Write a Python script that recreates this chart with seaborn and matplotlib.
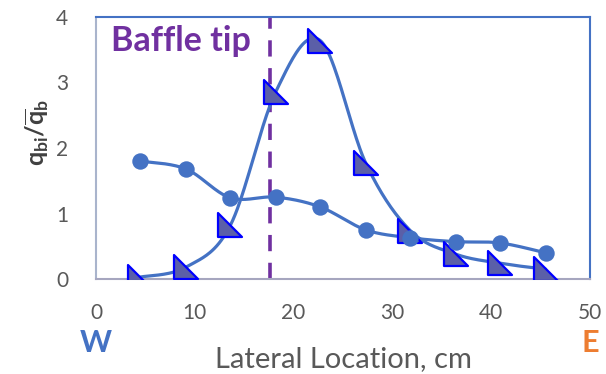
import numpy as np
import pandas as pd
import seaborn as sns
import matplotlib.pyplot as plt
from matplotlib.path import Path

# Data
x_loc = [4.5, 9.1, 13.6, 18.2, 22.7, 27.3, 31.8, 36.4, 40.9, 45.5]
q_circle = [1.80, 1.68, 1.24, 1.25, 1.10, 0.75, 0.63, 0.57, 0.55, 0.40]
q_triangle = [0.03, 0.18, 0.82, 2.86, 3.64, 1.77, 0.74, 0.38, 0.24, 0.15]
baffle_x = 17.6
x_ticks = [0, 10, 20, 30, 40, 50]
y_ticks = [0, 1, 2, 3, 4]

line_blue = '#4472C4'
purple = '#7030A0'


def smooth(xs, ys, sx=494 / 50, sy=262 / 4, n=40):
    # Excel-like smoothed line (Catmull-Rom as cubic Bezier), done in pixel space
    p = np.column_stack([np.array(xs) * sx, np.array(ys) * sy])
    pts = np.vstack([p[0], p, p[-1]])
    out = []
    t = np.linspace(0, 1, n)[:, None]
    for i in range(1, len(pts) - 2):
        p0, p1, p2, p3 = pts[i - 1], pts[i], pts[i + 1], pts[i + 2]
        c1 = p1 + (p2 - p0) / 6
        c2 = p2 - (p3 - p1) / 6
        seg = ((1 - t) ** 3) * p1 + 3 * ((1 - t) ** 2) * t * c1 + 3 * (1 - t) * t ** 2 * c2 + t ** 3 * p2
        out.append(seg if i == 1 else seg[1:])
    out = np.vstack(out)
    return out[:, 0] / sx, out[:, 1] / sy


sns.set_theme(style='white')
plt.rcParams['font.family'] = ['Lato', 'DejaVu Sans']
plt.rcParams['mathtext.fontset'] = 'custom'
plt.rcParams['mathtext.rm'] = 'Lato'
plt.rcParams['mathtext.bf'] = 'Lato:bold'
plt.rcParams['mathtext.it'] = 'Lato:italic'

fig = plt.figure(figsize=(6.06, 3.74), dpi=100)
ax = fig.add_axes([96 / 606, 95 / 374, 494 / 606, 262 / 374])

sx, sy = smooth(x_loc, q_triangle)
cx, cy = smooth(x_loc, q_circle)
sns.lineplot(x=sx, y=sy, ax=ax, color=line_blue, lw=2.3, sort=False, zorder=3)
sns.lineplot(x=cx, y=cy, ax=ax, color=line_blue, lw=2.3, sort=False, zorder=3)

ax.plot([baffle_x, baffle_x], [0, 4], color=purple, lw=2.6, dashes=(4.5, 3.2), zorder=2)

tri = Path([(-1, 1), (-1, -1), (1, -1), (-1, 1)],
           [Path.MOVETO, Path.LINETO, Path.LINETO, Path.CLOSEPOLY])
df = pd.DataFrame({'x': x_loc, 'circ': q_circle, 'tri': q_triangle})
sns.scatterplot(data=df, x='x', y='tri', ax=ax, marker=tri, s=320,
                color='#5B5FA8', edgecolor='#0000FF', linewidth=1.6, zorder=4)
sns.scatterplot(data=df, x='x', y='circ', ax=ax, marker='o', s=140,
                color=line_blue, edgecolor=line_blue, linewidth=0, zorder=5)

ax.set_xlim(0, 50)
ax.set_ylim(0, 4)
ax.set_xticks(x_ticks)
ax.set_yticks(y_ticks)
ax.tick_params(axis='both', labelsize=15, labelcolor='#595959', length=0)
ax.tick_params(axis='x', pad=17)
ax.tick_params(axis='y', pad=20)

ax.set_xlabel('Lateral Location, cm', fontsize=21, color='#595959', va='center')
ax.xaxis.set_label_coords(0.5, -(359 - 279) / 262)
ax.set_ylabel(r'$\mathbf{q_{bi}/\overline{q}_{b}}$', fontsize=18, color='#404040', va='center')
ax.yaxis.set_label_coords((37 - 96) / 494, (279 - 133) / 262)

for side, col in [('left', '#A9B4CC'), ('bottom', '#A6A6BF'), ('top', line_blue), ('right', line_blue)]:
    ax.spines[side].set_color(col)
    ax.spines[side].set_linewidth(1.5)

ax.text(1.5, 3.63, 'Baffle tip', fontsize=24.5, fontweight='bold', color=purple, va='center', ha='left')
fig.text(96 / 606, 1 - 343 / 374, 'W', fontsize=22, fontweight='bold', color=line_blue, ha='center', va='center')
fig.text(590 / 606, 1 - 343 / 374, 'E', fontsize=22, fontweight='bold', color='#ED7D31', ha='center', va='center')

fig.savefig('out.png', dpi=100)
